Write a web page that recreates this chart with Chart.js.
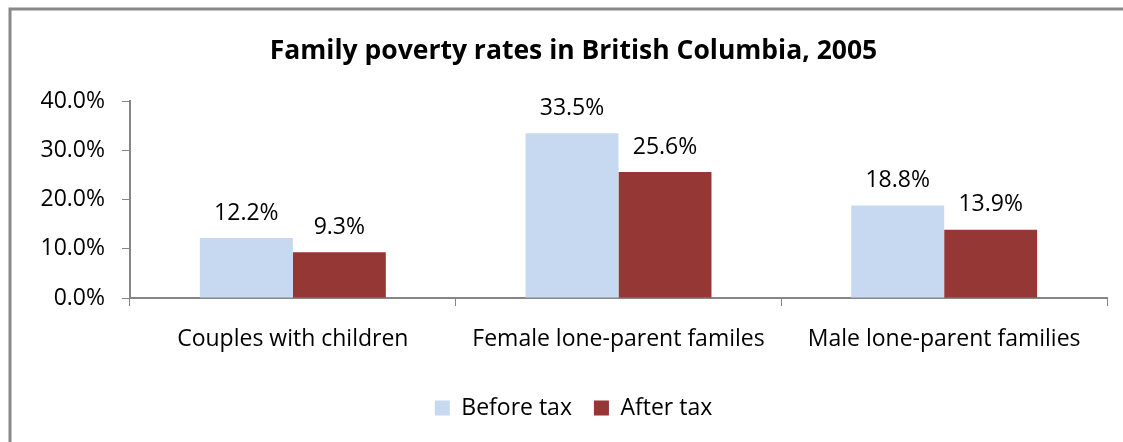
<!DOCTYPE html>
<html>
<head>
<meta charset="utf-8">
<script src="https://cdn.jsdelivr.net/npm/chart.js@4.4.0/dist/chart.umd.min.js"></script>
<style>
  html, body { margin: 0; padding: 0; background: #fff; }
  #wrap { position: relative; width: 1123px; height: 442px; }
</style>
</head>
<body>
<div id="wrap"><canvas id="povertyChart" width="1123" height="442"></canvas></div>
<script>
// Family poverty rates in BC, 2005
const categories = ['Couples with children', 'Female lone-parent familes', 'Male lone-parent families'];
const beforeTax = [12.2, 33.5, 18.8];
const afterTax = [9.3, 25.6, 13.9];
const yTicks = [0, 10, 20, 30, 40];

const FONT = '"Open Sans", Lato, sans-serif';
const AXIS_GREY = '#868686';

// outer frame, runs off the right and bottom edge like the original
const framePlugin = {
    id: 'frame',
    beforeDraw(chart) {
        const c = chart.ctx;
        c.save();
        c.fillStyle = '#fff';
        c.fillRect(0, 0, chart.width, chart.height);
        c.strokeStyle = '#888';
        c.lineWidth = 3;
        c.strokeRect(10, 9, chart.width + 20, chart.height + 20);
        c.restore();
    }
};

// value labels above each bar
const valueLabels = {
    id: 'valueLabels',
    afterDatasetsDraw(chart) {
        const c = chart.ctx;
        c.save();
        c.font = '23px ' + FONT;
        c.fillStyle = '#000';
        c.textAlign = 'center';
        c.textBaseline = 'middle';
        chart.data.datasets.forEach((ds, i) => {
            chart.getDatasetMeta(i).data.forEach((bar, j) => {
                c.fillText(ds.data[j].toFixed(1) + '%', bar.x, bar.y - 25);
            });
        });
        c.restore();
    }
};

new Chart(document.getElementById('povertyChart').getContext('2d'), {
    type: 'bar',
    data: {
        labels: categories,
        datasets: [{
            label: 'Before tax',
            data: beforeTax,
            backgroundColor: '#C6D9F1',
            barPercentage: 1.0,
            categoryPercentage: 0.571
        }, {
            label: 'After tax',
            data: afterTax,
            backgroundColor: '#953735',
            barPercentage: 1.0,
            categoryPercentage: 0.571
        }]
    },
    options: {
        responsive: false,
        animation: false,
        devicePixelRatio: 1,
        layout: {
            // left padding shifts title/legend centre to the right like the original
            padding: { left: 40, right: 16, top: 0, bottom: 12.5 }
        },
        plugins: {
            title: {
                display: true,
                text: 'Family poverty rates in British Columbia, 2005',
                color: '#000',
                font: { family: FONT, size: 26.5, weight: 'bold' },
                padding: { top: 36, bottom: 33.5 }
            },
            legend: {
                position: 'bottom',
                labels: {
                    color: '#000',
                    font: { family: FONT, size: 23 },
                    boxWidth: 15,
                    boxHeight: 15,
                    padding: 22
                }
            },
            tooltip: { enabled: false }
        },
        scales: {
            x: {
                afterFit(scale) { scale.height = 76.5; },
                grid: {
                    offset: true,
                    drawOnChartArea: false,
                    drawTicks: true,
                    tickLength: 8,
                    color: AXIS_GREY
                },
                border: { display: true, color: AXIS_GREY, width: 2 },
                ticks: {
                    color: '#000',
                    font: { family: FONT, size: 23 },
                    padding: 20,
                    maxRotation: 0
                }
            },
            y: {
                min: 0,
                max: 40,
                afterFit(scale) { scale.width = 90; },
                afterBuildTicks(scale) {
                    scale.ticks = yTicks.map(v => ({ value: v }));
                },
                grid: {
                    drawOnChartArea: false,
                    drawTicks: true,
                    tickLength: 8,
                    color: AXIS_GREY
                },
                border: { display: true, color: AXIS_GREY, width: 2 },
                ticks: {
                    color: '#000',
                    font: { family: FONT, size: 23 },
                    padding: 17,
                    callback: v => v.toFixed(1) + '%'
                }
            }
        }
    },
    plugins: [framePlugin, valueLabels]
});
</script>
</body>
</html>
